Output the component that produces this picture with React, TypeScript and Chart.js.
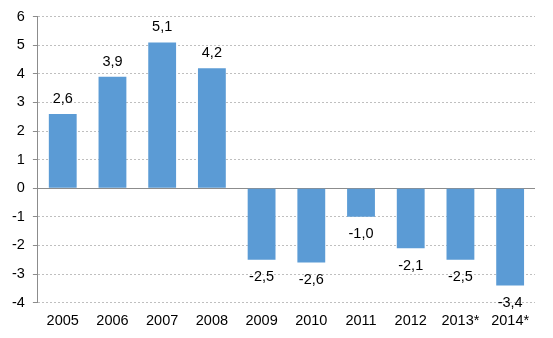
import React, { useEffect, useRef } from "react";
import { Chart, registerables } from "chart.js";

Chart.register(...registerables);

const categories = ["2005", "2006", "2007", "2008", "2009", "2010", "2011", "2012", "2013*", "2014*"];
const values = [2.6, 3.9, 5.1, 4.2, -2.5, -2.6, -1.0, -2.1, -2.5, -3.4];
const yMin = -4;
const yMax = 6;

const FONT = "'Liberation Sans', Arial, sans-serif";

const labelPlugin = {
  id: "valueLabels",
  beforeDatasetsDraw(chart: any) {
    const { ctx, chartArea, scales } = chart;
    const y0 = Math.round(scales.y.getPixelForValue(0)) + 0.5;
    ctx.save();
    ctx.strokeStyle = "#8c8c8c";
    ctx.lineWidth = 1;
    ctx.beginPath();
    ctx.moveTo(chartArea.left, y0);
    ctx.lineTo(chartArea.right, y0);
    ctx.stroke();
    ctx.restore();
  },
  afterDatasetsDraw(chart: any) {
    const { ctx } = chart;
    const meta = chart.getDatasetMeta(0);
    ctx.save();
    ctx.font = `14.5px ${FONT}`;
    ctx.fillStyle = "#000";
    ctx.textAlign = "center";
    ctx.textBaseline = "alphabetic";
    meta.data.forEach((bar: any, i: number) => {
      const v = values[i];
      const txt = v.toFixed(1).replace(".", ",");
      const y = v >= 0 ? bar.y - 11 : bar.y + 21.5;
      ctx.fillText(txt, bar.x, y);
    });
    ctx.restore();
  },
};

export default function App() {
  const ref = useRef<HTMLCanvasElement>(null);
  useEffect(() => {
    document.body.style.margin = "0";
    const chart = new Chart(ref.current!, {
      type: "bar",
      data: {
        labels: categories,
        datasets: [
          {
            data: values,
            backgroundColor: "#5b9bd5",
            barPercentage: 0.56,
            categoryPercentage: 1,
          },
        ],
      },
      options: {
        animation: false,
        responsive: false,
        maintainAspectRatio: false,
        layout: { padding: { left: 4, right: 18, top: 15, bottom: -2 } },
        plugins: { legend: { display: false }, tooltip: { enabled: false } },
        scales: {
          x: {
            grid: { display: false, drawTicks: false },
            border: { display: false },
            ticks: { color: "#000", font: { family: FONT, size: 14.5 }, padding: 10, maxRotation: 0 },
          },
          y: {
            min: yMin,
            max: yMax,
            ticks: { stepSize: 1, color: "#000", font: { family: FONT, size: 14.5 }, padding: 8 },
            grid: {
              color: "#bfbfbf",
              tickColor: "#8c8c8c",
              tickLength: 5,
              tickBorderDash: [],
            },
            border: { display: true, color: "#8c8c8c", dash: [2, 2] },
          },
        },
      },
      plugins: [labelPlugin],
    });
    return () => chart.destroy();
  }, []);
  return (
    <div style={{ width: 553, height: 338 }}>
      <canvas ref={ref} width={553} height={338} />
    </div>
  );
}
